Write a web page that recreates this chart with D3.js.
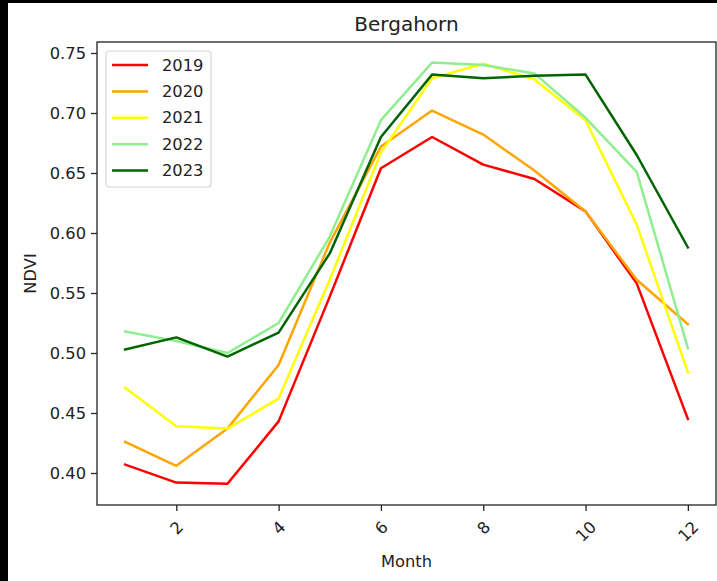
<!DOCTYPE html>
<html>
<head>
<meta charset="utf-8">
<script src="https://cdn.jsdelivr.net/npm/d3@7"></script>
<style>
  html, body { margin: 0; padding: 0; background: #fff; }
  svg { display: block; }
  text { font-family: "DejaVu Sans", sans-serif; fill: #222; }
</style>
</head>
<body>
<script>
// Monthly mean NDVI for Bergahorn, one series per year
const months = [1, 2, 3, 4, 5, 6, 7, 8, 9, 10, 11, 12];
const years = ["2019", "2020", "2021", "2022", "2023"];
const colors = ["#ff0000", "#ffa500", "#ffff00", "#90ee90", "#006400"];
const ndvi2019 = [0.407, 0.392, 0.391, 0.443, 0.547, 0.654, 0.680, 0.657, 0.645, 0.618, 0.558, 0.445];
const ndvi2020 = [0.426, 0.406, 0.437, 0.490, 0.592, 0.672, 0.702, 0.682, 0.652, 0.618, 0.561, 0.524];
const ndvi2021 = [0.471, 0.439, 0.437, 0.462, 0.561, 0.667, 0.729, 0.741, 0.728, 0.694, 0.607, 0.484];
const ndvi2022 = [0.518, 0.510, 0.500, 0.525, 0.597, 0.694, 0.742, 0.740, 0.733, 0.696, 0.651, 0.504];
const ndvi2023 = [0.503, 0.513, 0.497, 0.517, 0.583, 0.680, 0.732, 0.729, 0.731, 0.732, 0.665, 0.588];
const seriesValues = [ndvi2019, ndvi2020, ndvi2021, ndvi2022, ndvi2023];
const yTicks = [0.40, 0.45, 0.50, 0.55, 0.60, 0.65, 0.70, 0.75];
const xTicks = [2, 4, 6, 8, 10, 12];
const title = "Bergahorn";
const xLabel = "Month";
const yLabel = "NDVI";

const W = 717, H = 581;
const plot = { left: 97, right: 716, top: 42, bottom: 505 };

const svg = d3.select("body").append("svg").attr("width", W).attr("height", H);

// frame around the figure
svg.append("rect").attr("x", 0).attr("y", 0).attr("width", W).attr("height", H).attr("fill", "#000");
svg.append("rect").attr("x", 8).attr("y", 3).attr("width", W - 8).attr("height", H - 3).attr("fill", "#fff");

const x = d3.scaleLinear().domain([0.45, 12.55]).range([plot.left, plot.right]);
const y = d3.scaleLinear().domain([0.75 - 452 / 1200, 0.75 + 11 / 1200]).range([plot.bottom, plot.top]);

// lines
const line = d3.line().x((d, i) => x(months[i])).y(d => y(d));
const g = svg.append("g");
seriesValues.forEach((vals, k) => {
  g.append("path")
    .datum(vals)
    .attr("d", line)
    .attr("fill", "none")
    .attr("stroke", colors[k])
    .attr("stroke-width", 2.5)
    .attr("stroke-linejoin", "round")
    .attr("stroke-linecap", "square");
});

// y axis
const yAxis = d3.axisLeft(y).tickValues(yTicks).tickFormat(d3.format(".2f")).tickSize(6).tickPadding(5);
const yg = svg.append("g").attr("transform", `translate(${plot.left},0)`).call(yAxis);
yg.select(".domain").remove();
yg.selectAll("line").attr("stroke", "#222").attr("stroke-width", 1.3);
yg.selectAll("text").attr("font-size", 16.3).attr("font-family", "DejaVu Sans").attr("fill", "#222");

// x axis with rotated labels
const xAxis = d3.axisBottom(x).tickValues(xTicks).tickFormat(d3.format("d")).tickSize(6);
const xg = svg.append("g").attr("transform", `translate(0,${plot.bottom})`).call(xAxis);
xg.select(".domain").remove();
xg.selectAll("line").attr("stroke", "#222").attr("stroke-width", 1.3);
xg.selectAll("text").each(function () {
  const t = d3.select(this)
    .attr("font-size", 16.3).attr("font-family", "DejaVu Sans").attr("fill", "#222")
    .attr("text-anchor", "middle").attr("dominant-baseline", "central")
    .attr("dy", null);
  const w = this.getComputedTextLength();
  const h = 12;
  const cy = 15 + (w + h) / (2 * Math.SQRT2);
  t.attr("y", null).attr("x", null)
   .attr("transform", `translate(0,${cy}) rotate(-45)`);
});

// spines
svg.append("rect")
  .attr("x", plot.left).attr("y", plot.top)
  .attr("width", plot.right - plot.left).attr("height", plot.bottom - plot.top)
  .attr("fill", "none").attr("stroke", "#222").attr("stroke-width", 1.3);

// title and axis labels
svg.append("text").attr("x", (plot.left + plot.right) / 2).attr("y", 31)
  .attr("text-anchor", "middle").attr("font-size", 20).text(title);
svg.append("text").attr("x", (plot.left + plot.right) / 2).attr("y", 567)
  .attr("text-anchor", "middle").attr("font-size", 16.3).text(xLabel);
svg.append("text")
  .attr("transform", `translate(36,${(plot.top + plot.bottom) / 2}) rotate(-90)`)
  .attr("text-anchor", "middle").attr("font-size", 16.3).text(yLabel);

// legend
const leg = svg.append("g").attr("transform", "translate(106,51)");
leg.append("rect").attr("width", 105).attr("height", 136).attr("rx", 3)
  .attr("fill", "#fff").attr("fill-opacity", 0.8)
  .attr("stroke", "#d6d6d6").attr("stroke-width", 1.2);
years.forEach((yr, k) => {
  const cy = 14 + k * 26.4;
  leg.append("line").attr("x1", 6).attr("x2", 42).attr("y1", cy).attr("y2", cy)
    .attr("stroke", colors[k]).attr("stroke-width", 2.5);
  leg.append("text").attr("x", 56).attr("y", cy).attr("dominant-baseline", "central")
    .attr("font-size", 16.3).text(yr);
});
</script>
</body>
</html>
